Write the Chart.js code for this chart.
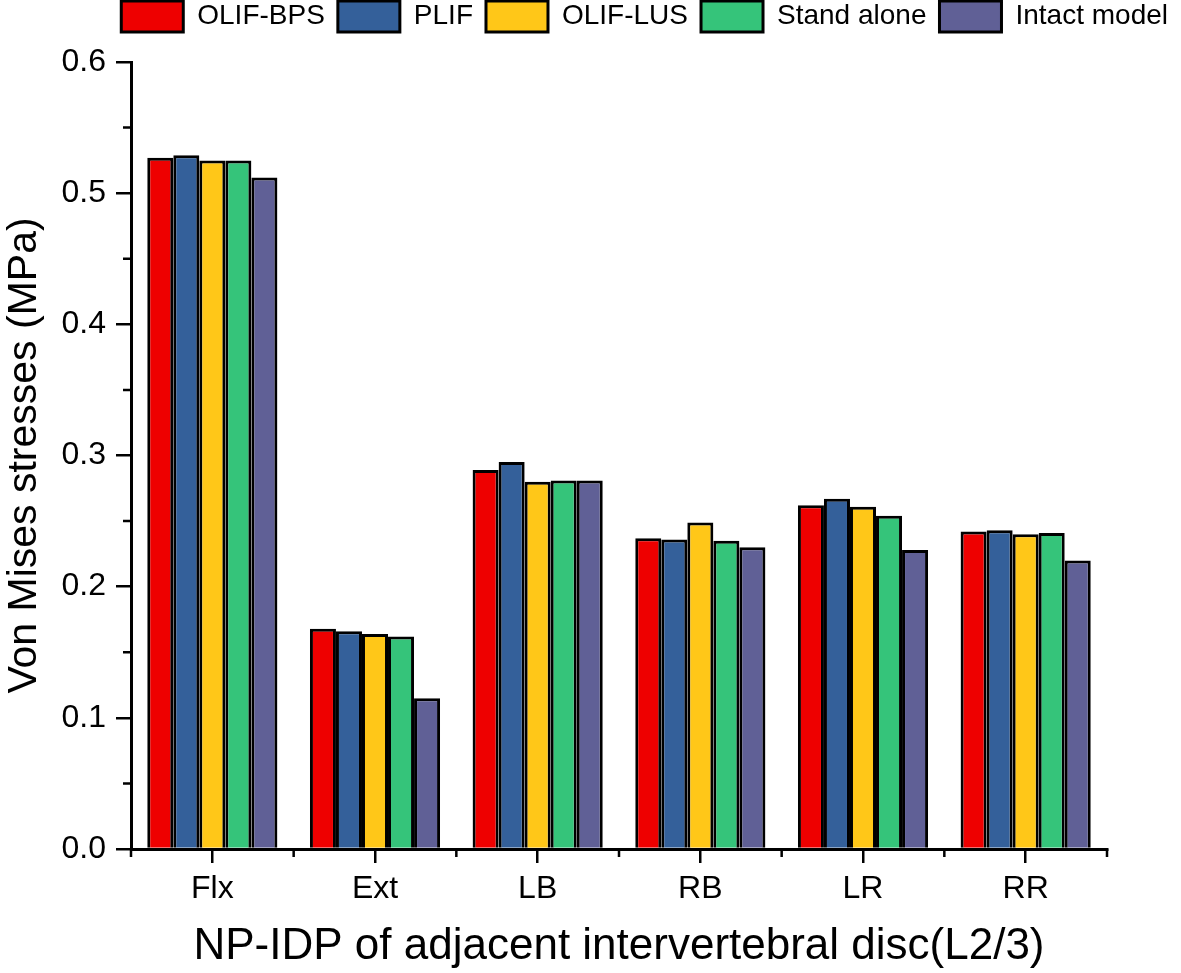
<!DOCTYPE html>
<html>
<head>
<meta charset="utf-8">
<script src="https://cdn.jsdelivr.net/npm/chart.js@4"></script>
<style>
  html, body { margin: 0; padding: 0; background: #fff; }
  #wrap { width: 1181px; height: 973px; }
</style>
</head>
<body>
<div id="wrap"><canvas id="myChart" width="1181" height="973"></canvas></div>
<script>
const categories = ['Flx', 'Ext', 'LB', 'RB', 'LR', 'RR'];
const olifBps = [0.527, 0.168, 0.289, 0.237, 0.262, 0.242];
const plif = [0.529, 0.166, 0.295, 0.236, 0.267, 0.243];
const olifLus = [0.525, 0.164, 0.280, 0.249, 0.261, 0.240];
const standAlone = [0.525, 0.162, 0.281, 0.235, 0.254, 0.241];
const intactModel = [0.512, 0.115, 0.281, 0.230, 0.228, 0.220];

const font = '"Liberation Sans", Arial, sans-serif';

// small outward minor ticks: halfway between y ticks, and at category edges on x
const minorTicks = {
  id: 'minorTicks',
  afterDraw(chart) {
    const ctx = chart.ctx;
    const x = chart.scales.x;
    const y = chart.scales.y;
    ctx.save();
    ctx.strokeStyle = '#000';
    ctx.lineWidth = 2.5;
    ctx.beginPath();
    for (let v = 0.05; v < 0.6; v += 0.1) {
      const py = y.getPixelForValue(v);
      ctx.moveTo(x.left - 8, py);
      ctx.lineTo(x.left, py);
    }
    for (let i = 0; i <= categories.length; i++) {
      const px = x.getPixelForValue(i - 0.5);
      ctx.moveTo(px, y.bottom);
      ctx.lineTo(px, y.bottom + 8);
    }
    ctx.stroke();
    ctx.restore();
  }
};

// extra room under the legend
const legendGap = {
  id: 'legendGap',
  beforeInit(chart) {
    const fit = chart.legend.fit;
    chart.legend.fit = function () {
      fit.bind(chart.legend)();
      this.height += 20;
    };
  }
};

const ctx = document.getElementById('myChart').getContext('2d');
const myChart = new Chart(ctx, {
  type: 'bar',
  data: {
    labels: categories,
    datasets: [
      { label: 'OLIF-BPS', data: olifBps, backgroundColor: '#ee0000' },
      { label: 'PLIF', data: plif, backgroundColor: '#34609a' },
      { label: 'OLIF-LUS', data: olifLus, backgroundColor: '#ffc718' },
      { label: 'Stand alone', data: standAlone, backgroundColor: '#35c47a' },
      { label: 'Intact model', data: intactModel, backgroundColor: '#606096' },
    ],
  },
  options: {
    responsive: false,
    animation: false,
    datasets: {
      bar: {
        borderColor: '#000',
        borderWidth: 3,
        categoryPercentage: 0.8,
        barPercentage: 1.0,
      },
    },
    layout: { padding: { left: 0, right: 0, top: -12, bottom: 0 } },
    plugins: {
      tooltip: { enabled: false },
      legend: {
        position: 'top',
        align: 'end',
        labels: {
          color: '#000',
          font: { family: font, size: 28 },
          boxWidth: 62,
          boxHeight: 31,
          padding: 13,
        },
      },
    },
    scales: {
      x: {
        grid: {
          offset: false,
          drawOnChartArea: false,
          color: '#000',
          lineWidth: 2.5,
          tickLength: 14,
        },
        border: { display: true, color: '#000', width: 3 },
        ticks: { color: '#000', font: { family: font, size: 32 }, padding: 7 },
        title: {
          display: true,
          text: 'NP-IDP of adjacent intervertebral disc(L2/3)',
          color: '#000',
          font: { family: font, size: 44 },
          padding: { top: 0, bottom: 0 },
        },
        afterFit(scale) { scale.height = 124; },
      },
      y: {
        min: 0,
        max: 0.6,
        grid: {
          drawOnChartArea: false,
          color: '#000',
          lineWidth: 2.5,
          tickLength: 15,
        },
        border: { display: true, color: '#000', width: 3 },
        ticks: {
          stepSize: 0.1,
          color: '#000',
          font: { family: font, size: 32 },
          padding: 10,
          callback: (v) => v.toFixed(1),
        },
        title: {
          display: true,
          text: 'Von Mises stresses (MPa)',
          color: '#000',
          font: { family: font, size: 41 },
          padding: { top: 0, bottom: 0 },
        },
        afterFit(scale) { scale.width = 131; },
      },
      // empty right-hand strip so the plot ends where the reference does
      right: {
        position: 'right',
        grid: { display: false },
        border: { display: false },
        ticks: { display: false },
        afterFit(scale) { scale.width = 74; },
      },
    },
  },
  plugins: [minorTicks, legendGap],
});
</script>
</body>
</html>
